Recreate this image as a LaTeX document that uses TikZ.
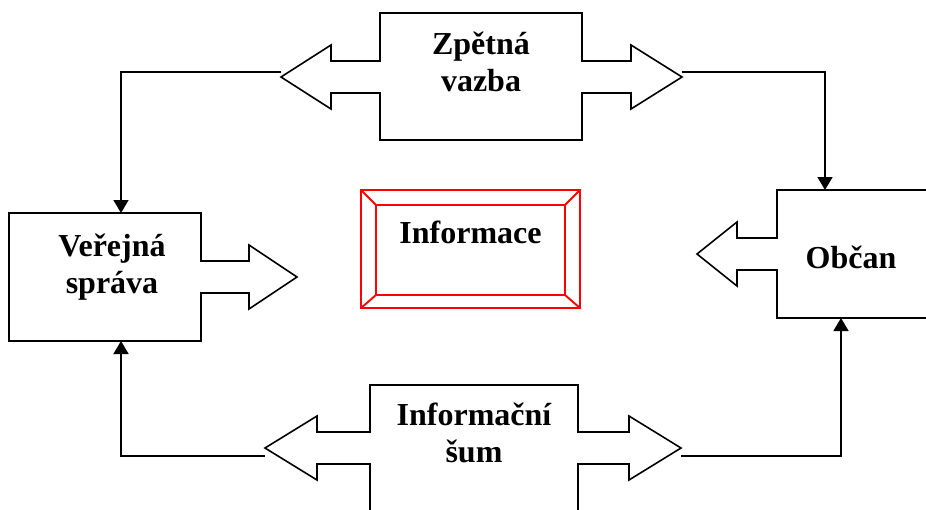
\documentclass[tikz,border=0pt]{standalone}
\usepackage{fontspec}
\setmainfont{Liberation Serif}
\usetikzlibrary{arrows.meta}
\newcommand\twolines[2]{\begin{tabular}[t]{@{}c@{}}#1\\#2\end{tabular}}
\begin{document}
\begin{tikzpicture}[x=1pt,y=-1pt,
  outline/.style={draw=black,line width=1.6pt,line join=miter},
  conn/.style={draw=black,line width=1.6pt},
  arr/.style={conn,-{Triangle[length=13pt,width=15pt]}},
  lbl/.style={font=\fontsize{32}{37}\selectfont\bfseries,inner sep=0pt,anchor=base},
  redbox/.style={draw=red,line width=1.9pt}]
\useasboundingbox (0,0) rectangle (926,509);
\clip (0,0) rectangle (926,509);

% Zpetna vazba (double arrow box, top)
\draw[outline] (380,13) -- (582,13) -- (582,61) -- (631,61) -- (631,45) -- (682,77)
  -- (631,109) -- (631,93) -- (582,93) -- (582,140) -- (380,140) -- (380,93)
  -- (331,93) -- (331,109) -- (281,77) -- (331,45) -- (331,61) -- (380,61) -- cycle;
\node[lbl] (zv) at (481,54) {\twolines{Zpětná}{vazba}};

% Verejna sprava
\draw[outline] (9,213) -- (201,213) -- (201,261) -- (249,261) -- (249,245) -- (297,277)
  -- (249,309) -- (249,293) -- (201,293) -- (201,341) -- (9,341) -- cycle;
\node[lbl] (vs) at (112,256) {\twolines{Veřejná}{správa}};

% Obcan
\draw[outline] (935,190) -- (777,190) -- (777,238) -- (737,238) -- (737,222) -- (697,254)
  -- (737,286) -- (737,270) -- (777,270) -- (777,318) -- (935,318);
\node[lbl] (ob) at (851,268) {Občan};

% Informacni sum (bottom)
\draw[outline] (370,515) -- (370,464) -- (317,464) -- (317,480) -- (265,448) -- (317,416)
  -- (317,432) -- (370,432) -- (370,385) -- (578,385) -- (578,432) -- (629,432)
  -- (629,416) -- (681,448) -- (629,480) -- (629,464) -- (578,464) -- (578,515);
\node[lbl] (is) at (474,425) {\twolines{Informační}{šum}};

% Informace (red bevel box)
\draw[redbox] (361,190) rectangle (580,308);
\draw[redbox] (376,205) rectangle (565,295);
\draw[redbox] (361,190) -- (376,205) (580,190) -- (565,205)
  (361,308) -- (376,295) (580,308) -- (565,295);
\node[lbl] (inf) at (470.5,243) {Informace};

% connector end points
\coordinate (zvL) at (281,72);
\coordinate (zvR) at (682,72);
\coordinate (isL) at (265,456);
\coordinate (isR) at (681,456);
\coordinate (vsTop) at (121,213);
\coordinate (vsBot) at (121,341);
\coordinate (obTop) at (825,190);
\coordinate (obBot) at (841,318);

\draw[arr] (zvL) -| (vsTop);
\draw[arr] (zvR) -| (obTop);
\draw[arr] (isL) -| (vsBot);
\draw[arr] (isR) -| (obBot);
\end{tikzpicture}
\end{document}
